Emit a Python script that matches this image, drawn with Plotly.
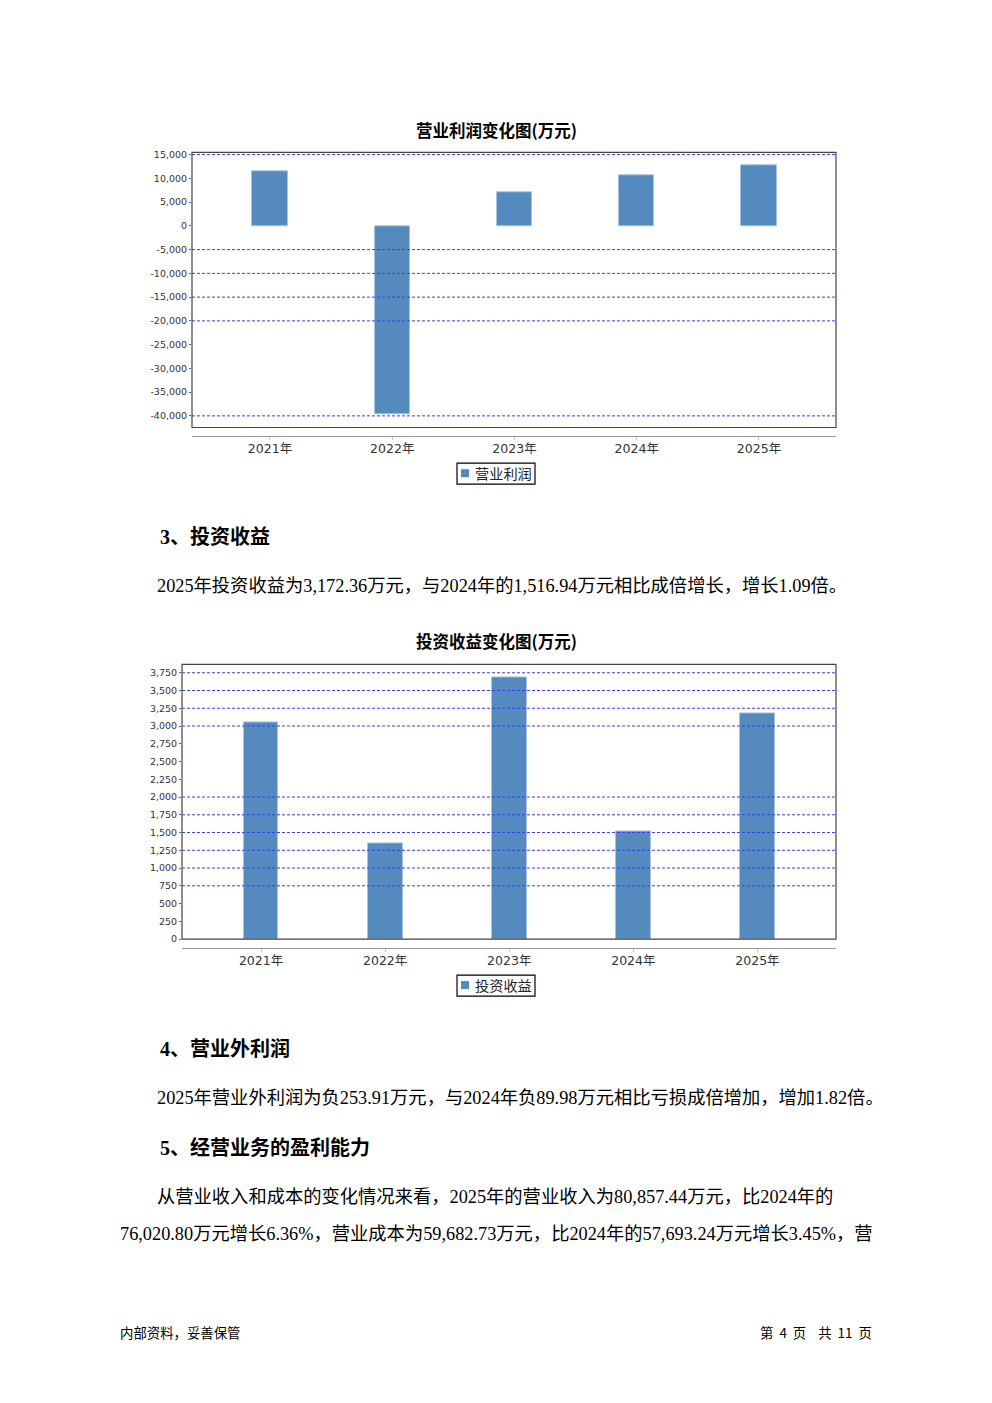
import plotly.graph_objects as go

# ---------------- data ----------------
years = ["2021年", "2022年", "2023年", "2024年", "2025年"]
op_profit = [11490, -39720, 7070, 10650, 12755]
op_profit_ticks = [15000, 10000, 5000, 0, -5000, -10000, -15000, -20000, -25000, -30000, -35000, -40000]
op_profit_grid = [15000, -5000, -10000, -15000, -20000, -40000]

invest_income = [3045, 1350, 3684, 1516.94, 3172.36]
invest_ticks = [0, 250, 500, 750, 1000, 1250, 1500, 1750, 2000, 2250, 2500, 2750, 3000, 3250, 3500, 3750]
invest_grid = [3750, 3500, 3250, 3000, 2000, 1750, 1500, 1250, 1000, 750]

title1 = "营业利润变化图(万元)"
title2 = "投资收益变化图(万元)"
legend1 = "营业利润"
legend2 = "投资收益"

W, H = 992, 1403
OFF = 8  # page body margin
def X(px): return (px - OFF) / W
def Y(py):
    p = (py - 2.7) / 0.9946  # empirical vertical correction
    return 1 - (p - OFF) / H

BAR = "#548abd"
BAR_EDGE = "#a8c3de"
GRID = "#3b3bf5"
CJK_SANS = "Noto Sans CJK SC"
BODY = "Liberation Serif, Noto Sans CJK SC"
TICKF = dict(family="DejaVu Sans, Noto Sans CJK SC", size=9.5, color="#333333")

fig = go.Figure()
fig.add_trace(go.Bar(x=years, y=op_profit, xaxis="x", yaxis="y", width=0.29,
                     marker=dict(color=BAR, line=dict(color=BAR_EDGE, width=1)),
                     showlegend=False, name=legend1))
fig.add_trace(go.Bar(x=years, y=invest_income, xaxis="x2", yaxis="y2", width=0.28,
                     marker=dict(color=BAR, line=dict(color=BAR_EDGE, width=1)),
                     showlegend=False, name=legend2))

def fmt(v):
    return f"{v:,}"

shapes = []
annotations = []

def chart(xa, ya, left, right, top, bottom, axis_y, yrange, ticks, grid, title, title_y,
          leg, leg_top, xrange):
    yref_name = "y" if ya == "yaxis" else "y2"
    xref_name = "x" if xa == "xaxis" else "x2"
    fig.layout[xa] = dict(domain=[X(left), X(right)], anchor="free", position=Y(axis_y),
                          range=xrange, showline=True, linecolor="#9a9a9a", linewidth=1,
                          ticks="outside", ticklen=3, tickcolor="#c8c8c8",
                          ticklabelstandoff=-2,
                          tickfont=dict(family="DejaVu Sans, Noto Sans CJK SC", size=12.5, color="#333333"),
                          showgrid=False, zeroline=False, fixedrange=True)
    fig.layout[ya] = dict(domain=[Y(bottom), Y(top)], anchor=xref_name, range=yrange,
                          tickvals=ticks, ticktext=[fmt(t) for t in ticks],
                          ticks="outside", ticklen=2, tickcolor="#666666",
                          tickfont=TICKF, showgrid=False, zeroline=False,
                          showline=False, fixedrange=True)
    for g in grid:
        shapes.append(dict(type="line", xref=f"{xref_name} domain", x0=0, x1=1,
                           yref=yref_name, y0=g, y1=g,
                           line=dict(color=GRID, width=1, dash="3px,2px"), layer="above"))
    shapes.append(dict(type="rect", xref="paper", yref="paper",
                       x0=X(left), x1=X(right), y0=Y(bottom), y1=Y(top),
                       line=dict(color="#444444", width=1.2), layer="above"))
    annotations.append(dict(text=f"<b>{title}</b>", xref="paper", yref="paper",
                            x=X(496), y=Y(title_y), xanchor="center", yanchor="middle",
                            showarrow=False, font=dict(family=CJK_SANS, size=16.5, color="#000000")))
    # legend box
    shapes.append(dict(type="rect", xref="paper", yref="paper",
                       x0=X(457), x1=X(535), y0=Y(leg_top + 21), y1=Y(leg_top),
                       line=dict(color="#000000", width=1.2), fillcolor="white"))
    shapes.append(dict(type="rect", xref="paper", yref="paper",
                       x0=X(461), x1=X(469), y0=Y(leg_top + 14), y1=Y(leg_top + 6),
                       line=dict(width=0), fillcolor=BAR))
    annotations.append(dict(text=leg, xref="paper", yref="paper",
                            x=X(473), y=Y(leg_top + 10), xanchor="left", yanchor="middle",
                            showarrow=False, font=dict(family=CJK_SANS, size=14.2, color="#222222")))

chart("xaxis", "yaxis", 192, 836, 152, 427.3, 436, [-42450, 15480], op_profit_ticks,
      op_profit_grid, title1, 130, legend1, 463, [-0.638, 4.63])
chart("xaxis2", "yaxis2", 182, 836, 664.3, 939, 948, [0, 3867], invest_ticks,
      invest_grid, title2, 641, legend2, 975, [-0.637, 4.633])

def text(t, x, y, size=18.3, bold=False, family=BODY, anchor="left"):
    annotations.append(dict(text=f"<b>{t}</b>" if bold else t, xref="paper", yref="paper",
                            x=X(x), y=Y(y), xanchor=anchor, yanchor="middle", showarrow=False,
                            font=dict(family=family, size=size, color="#000000")))

text("3、投资收益", 158, 537, size=20, bold=True)
text("2025年投资收益为3,172.36万元，与2024年的1,516.94万元相比成倍增长，增长1.09倍。", 155, 586)
text("4、营业外利润", 158, 1048.5, size=20, bold=True)
text("2025年营业外利润为负253.91万元，与2024年负89.98万元相比亏损成倍增加，增加1.82倍。", 155, 1098)
text("5、经营业务的盈利能力", 158, 1148, size=20, bold=True)
text("从营业收入和成本的变化情况来看，2025年的营业收入为80,857.44万元，比2024年的", 155, 1197)
text("76,020.80万元增长6.36%，营业成本为59,682.73万元，比2024年的57,693.24万元增长3.45%，营", 118, 1234)
text("内部资料，妥善保管", 118, 1332.5, size=13.4, family=CJK_SANS)
text("第  4  页    共  11  页", 874, 1332.5, size=13.4, family=CJK_SANS, anchor="right")

fig.update_layout(width=W, height=H, margin=dict(l=0, r=0, t=0, b=0),
                  paper_bgcolor="white", plot_bgcolor="white",
                  shapes=shapes, annotations=annotations, bargap=0, showlegend=False)

fig.write_html("out.html")
